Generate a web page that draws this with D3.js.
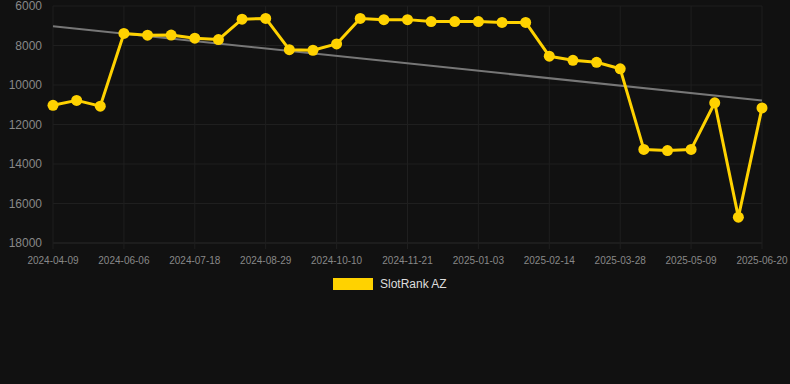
<!DOCTYPE html>
<html>
<head>
<meta charset="utf-8">
<script src="https://cdn.jsdelivr.net/npm/d3@7"></script>
<style>
  html, body { margin: 0; padding: 0; background: #111111; }
  svg { display: block; font-family: "Liberation Sans", Arial, sans-serif; }
</style>
</head>
<body>
<div id="chart"></div>
<script>
// dates of every point (category axis, only every 3rd is labelled)
const dates = [
  "2024-04-09", "2024-05-09", "2024-05-23", "2024-06-06", "2024-06-20", "2024-07-04",
  "2024-07-18", "2024-08-01", "2024-08-15", "2024-08-29", "2024-09-12", "2024-09-26",
  "2024-10-10", "2024-10-24", "2024-11-07", "2024-11-21", "2024-12-05", "2024-12-19",
  "2025-01-03", "2025-01-17", "2025-01-31", "2025-02-14", "2025-02-28", "2025-03-14",
  "2025-03-28", "2025-04-11", "2025-04-25", "2025-05-09", "2025-05-23", "2025-06-06",
  "2025-06-20"
];
const rankValues = [
  11030, 10780, 11070, 7390, 7480, 7470, 7630, 7700, 6670, 6630, 8210, 8240,
  7920, 6630, 6690, 6690, 6790, 6790, 6790, 6830, 6830, 8540, 8750, 8850,
  9180, 13260, 13320, 13260, 10900, 16690, 11160
];
// trend line end values (first and last date)
const trendValues = [7030, 10780];
const yTicks = [6000, 8000, 10000, 12000, 14000, 16000, 18000];
const seriesName = "SlotRank AZ";

const W = 790, H = 384;
const margin = {top: 6, right: 28, bottom: 141, left: 53};
const width = W - margin.left - margin.right;
const height = H - margin.top - margin.bottom;

const svg = d3.select("#chart").append("svg")
    .attr("width", W)
    .attr("height", H);

svg.append("rect").attr("width", W).attr("height", H).attr("fill", "#111111");

const g = svg.append("g")
    .attr("transform", "translate(" + margin.left + "," + margin.top + ")");

const x = d3.scalePoint(dates, [0, width]);
const y = d3.scaleLinear([6000, 18000], [0, height]);

const labelled = dates.filter((d, i) => i % 3 === 0);

// grid
g.append("g")
    .selectAll("line")
    .data(yTicks)
    .join("line")
    .attr("x1", 0).attr("x2", width)
    .attr("y1", d => y(d)).attr("y2", d => y(d))
    .attr("stroke", d => d === 18000 ? "#2a2a2a" : "#1f1f1f")
    .attr("stroke-width", 1);

g.append("g")
    .selectAll("line")
    .data(labelled)
    .join("line")
    .attr("x1", d => x(d)).attr("x2", d => x(d))
    .attr("y1", 0).attr("y2", height + 6)
    .attr("stroke", "#1f1f1f")
    .attr("stroke-width", 1);

// y axis labels
g.append("g")
    .selectAll("text")
    .data(yTicks)
    .join("text")
    .attr("x", -11)
    .attr("y", d => y(d))
    .attr("dy", "0.35em")
    .attr("text-anchor", "end")
    .attr("fill", "#888888")
    .attr("font-size", 12)
    .text(d => d);

// x axis labels
g.append("g")
    .selectAll("text")
    .data(labelled)
    .join("text")
    .attr("x", d => x(d))
    .attr("y", height + 17)
    .attr("dy", "0.35em")
    .attr("text-anchor", "middle")
    .attr("fill", "#888888")
    .attr("font-size", 10)
    .text(d => d);

// trend line
g.append("line")
    .attr("x1", x(dates[0])).attr("y1", y(trendValues[0]))
    .attr("x2", x(dates[dates.length - 1])).attr("y2", y(trendValues[1]))
    .attr("stroke", "#777777")
    .attr("stroke-width", 2);

// series
const line = d3.line()
    .x((d, i) => x(dates[i]))
    .y(d => y(d));

g.append("path")
    .datum(rankValues)
    .attr("d", line)
    .attr("fill", "none")
    .attr("stroke", "#ffd200")
    .attr("stroke-width", 3)
    .attr("stroke-linejoin", "round");

g.append("g")
    .selectAll("circle")
    .data(rankValues)
    .join("circle")
    .attr("cx", (d, i) => x(dates[i]))
    .attr("cy", d => y(d))
    .attr("r", 5.5)
    .attr("fill", "#ffd200");

// legend
const legend = svg.append("g").attr("transform", "translate(333,278)");
legend.append("rect")
    .attr("width", 40).attr("height", 12)
    .attr("fill", "#ffd200");
legend.append("text")
    .attr("x", 47).attr("y", 6)
    .attr("dy", "0.35em")
    .attr("fill", "#dddddd")
    .attr("font-size", 12)
    .text(seriesName);
</script>
</body>
</html>
